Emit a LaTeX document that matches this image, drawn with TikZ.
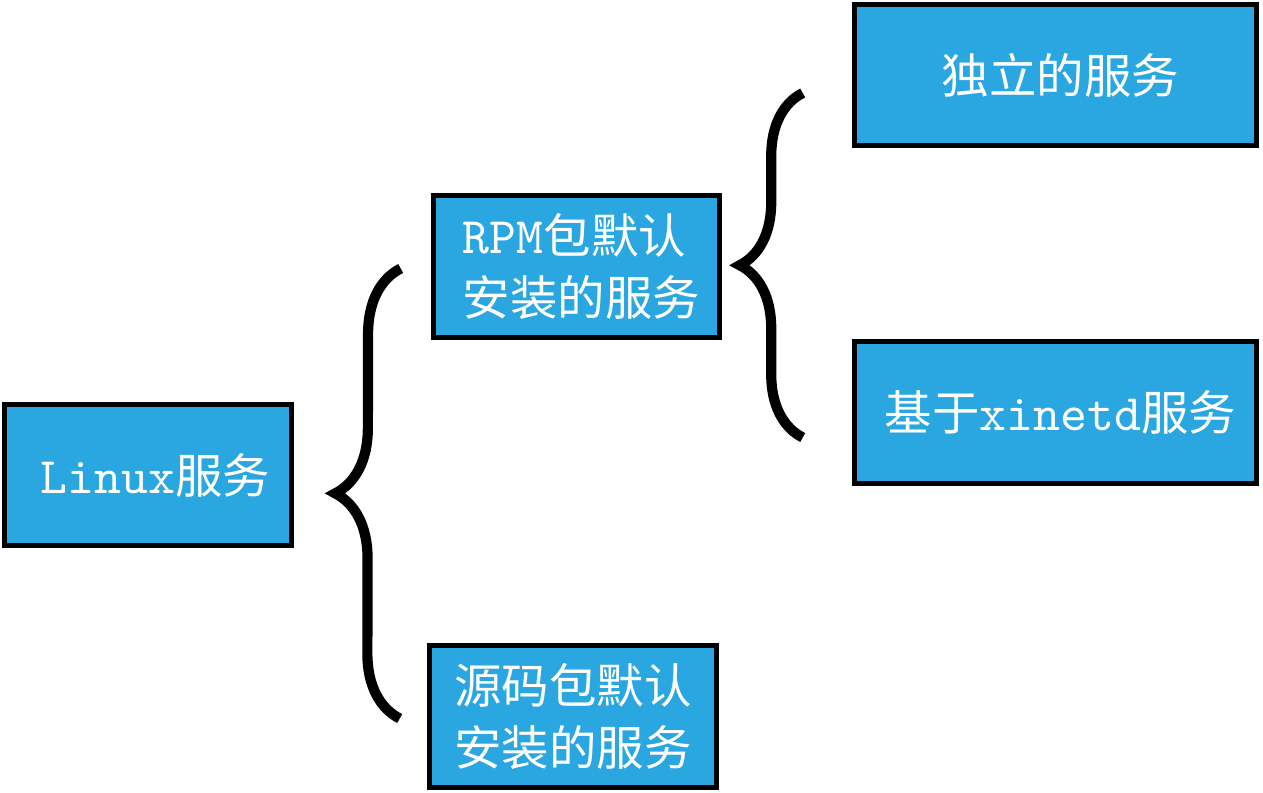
\documentclass[tikz,border=0pt]{standalone}
\usepackage{fontspec}
\setmainfont{lmmono10-regular.otf}[Scale=1.08]
\newfontfamily\cjk{Noto Sans CJK SC}
\usetikzlibrary{decorations.pathreplacing}
\definecolor{boxblue}{RGB}{42,167,224}

\begin{document}
\begin{tikzpicture}[box/.style={draw=black,line width=2.6pt,fill=boxblue,
    text=white,inner sep=0pt,minimum height=2.83cm,
    font=\fontsize{27}{35}\selectfont},
    curly/.style={decorate,line width=5.8pt,decoration={brace,amplitude=#1}}]
  \useasboundingbox (0,0) rectangle (25.26,15.84);
  \node[box, minimum width=5.74cm] (linux) at (2.96,6.34)
    {\hspace{0.3cm}Linux{\cjk 服务}};
  \node[box, minimum width=5.72cm, align=left] (rpm) at (11.53,10.51)
    {\hspace{0.2cm}RPM{\cjk 包默认}\\\hspace{0.2cm}{\cjk 安装的服务}};
  \node[box, minimum width=5.74cm, align=left] (src) at (11.46,1.51)
    {{\cjk 源码包默认}\\{\cjk 安装的服务}};
  \node[box, minimum width=8.04cm] (indep) at (21.11,14.34)
    {\hspace{0.2cm}{\cjk 独立的服务}};
  \node[box, minimum width=8.04cm] (xinetd) at (21.11,7.59)
    {\hspace{0.2cm}{\cjk 基于}xinetd{\cjk 服务}};
  % brace ends
  \coordinate (lb top) at ([xshift=-0.61cm,yshift=-0.04cm]rpm.west);
  \coordinate (lb bot) at ([xshift=-0.55cm,yshift=-0.04cm]src.west);
  \coordinate (rb top) at ([xshift=-0.99cm,yshift=-0.36cm]indep.west);
  \coordinate (rb bot) at ([xshift=-0.99cm,yshift=-0.5cm]xinetd.west);
  \draw[curly=1.3cm] (lb bot) -- (lb top);
  \draw[curly=1.26cm] (rb bot) -- (rb top);
\end{tikzpicture}
\end{document}
